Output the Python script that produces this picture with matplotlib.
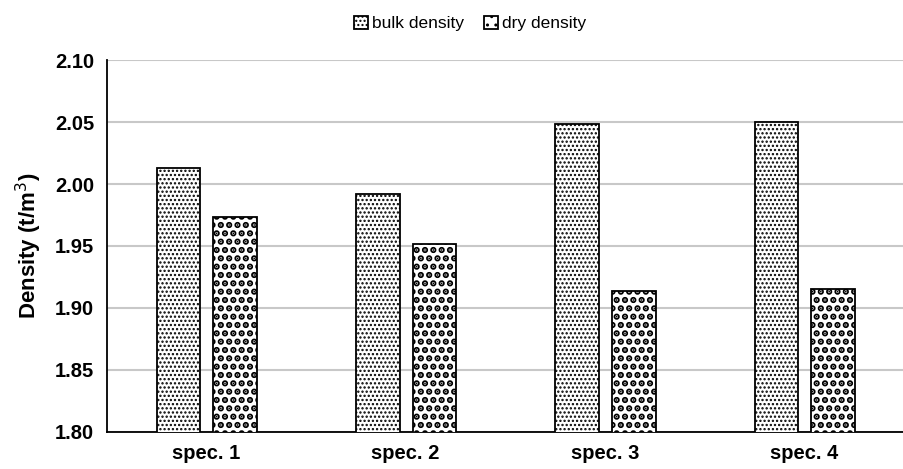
import matplotlib
matplotlib.use('Agg')
import matplotlib.pyplot as plt
import numpy as np

plt.rcParams['font.family'] = ['Liberation Sans', 'DejaVu Sans']
plt.rcParams['hatch.linewidth'] = 1.0

specs = ['spec. 1', 'spec. 2', 'spec. 3', 'spec. 4']
bulk = [2.013, 1.992, 2.048, 2.050]
dry = [1.973, 1.952, 1.914, 1.915]

x = np.arange(len(specs))
w = 0.22

fig = plt.figure(figsize=(9.04, 4.69), dpi=100)
ax = fig.add_axes([0.118, 0.079, 0.882, 0.793])

b1 = ax.bar(x - 0.14, bulk, w, color='white', edgecolor='black', linewidth=1.3,
            hatch='....', label='bulk density', zorder=3)
b2 = ax.bar(x + 0.145, dry, w, color='white', edgecolor='black', linewidth=1.3,
            hatch='..', label='dry density', zorder=3)
# coarser dots for dry density if supported
try:
    for p in b2:
        p.set_hatch_linewidth(3.2)
    for p in b1:
        p.set_hatch_linewidth(1.1)
except AttributeError:
    pass

ax.set_ylim(1.80, 2.10)
ax.set_xlim(-0.5, 3.5)
ax.set_yticks(np.arange(1.80, 2.101, 0.05))
ax.set_yticklabels(['%.2f' % v for v in np.arange(1.80, 2.101, 0.05)])
ax.set_xticks(x)
ax.set_xticklabels(specs)
for lab in ax.get_xticklabels() + ax.get_yticklabels():
    lab.set_fontweight('bold')
    lab.set_fontsize(14.5)
ax.tick_params(length=0, pad=9)
ax.set_ylabel('Density (t/m$^3$)', fontsize=16, fontweight='bold', labelpad=8)

ax.grid(axis='y', color='#c8c8c8', linewidth=1.5, zorder=0)
ax.spines['top'].set_visible(False)
ax.spines['right'].set_visible(False)
ax.spines['left'].set_linewidth(1.3)
ax.spines['bottom'].set_linewidth(1.3)

fig.legend(loc='upper center', bbox_to_anchor=(0.52, 1.0), ncol=2, frameon=False,
           fontsize=12.5, handlelength=0.8, handleheight=0.8, handletextpad=0.2,
           columnspacing=1.2)

fig.savefig('out.png', dpi=100)
